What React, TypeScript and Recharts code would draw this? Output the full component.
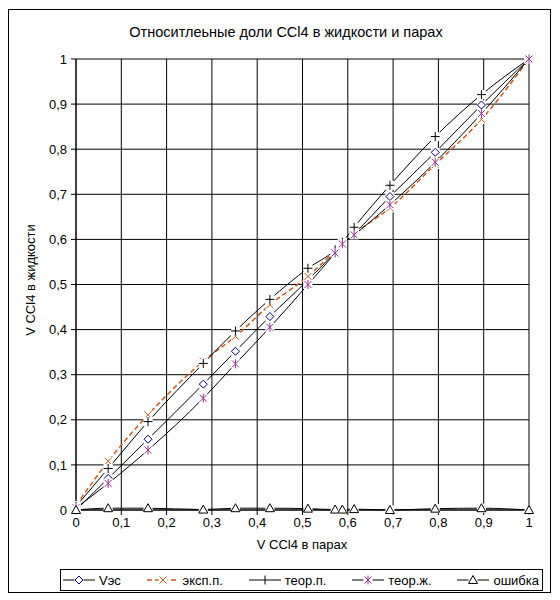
import { LineChart, Line, XAxis, YAxis, CartesianGrid } from 'recharts';

const FONT = "'Liberation Sans', Arial, sans-serif";

// доли CCl4 в парах (ось X)
const xPar = [0, 0.071, 0.159, 0.281, 0.352, 0.428, 0.512, 0.572, 0.588, 0.614, 0.693, 0.793, 0.895, 1];
const vEs = [0, 0.07, 0.157, 0.279, 0.352, 0.429, 0.51, 0.572, 0.59, 0.613, 0.695, 0.793, 0.898, 1];
const expP = [0.01, 0.108, 0.211, 0.33, 0.385, 0.455, 0.518, 0.575, 0.59, 0.612, 0.67, 0.766, 0.866, 1];
const teorP = [0.008, 0.092, 0.196, 0.325, 0.397, 0.467, 0.536, 0.577, 0.594, 0.627, 0.72, 0.828, 0.921, 1];
const teorZh = [0.005, 0.059, 0.133, 0.248, 0.324, 0.405, 0.5, 0.57, 0.59, 0.61, 0.677, 0.771, 0.879, 1];
const oshibka = [0, 0.004, 0.004, 0.001, 0.004, 0.004, 0.003, 0.001, 0.001, 0.002, 0, 0.003, 0.004, 0];

const ticks = [0, 0.1, 0.2, 0.3, 0.4, 0.5, 0.6, 0.7, 0.8, 0.9, 1];

const data = xPar.map((x, i) => ({
  x,
  ves: vEs[i],
  exp: expP[i],
  tp: teorP[i],
  tz: teorZh[i],
  err: oshibka[i],
}));

const fmt = (v: number) => String(v).replace('.', ',');

const NAVY = '#000080';
const ORANGE = '#cc5a1a';
const PURPLE = '#993399';

type Shape = 'diamond' | 'x' | 'plus' | 'star' | 'triangle';

function marker(shape: Shape, cx: number, cy: number, bg = true) {
  const r = 3.5;
  let m;
  if (shape === 'diamond') {
    m = <polygon points={`${cx},${cy - 4} ${cx + 4},${cy} ${cx},${cy + 4} ${cx - 4},${cy}`} fill="#fff" stroke={NAVY} strokeWidth={1} />;
  } else if (shape === 'x') {
    m = (
      <g stroke={ORANGE} strokeWidth={1}>
        <line x1={cx - r} y1={cy - r} x2={cx + r} y2={cy + r} />
        <line x1={cx - r} y1={cy + r} x2={cx + r} y2={cy - r} />
      </g>
    );
  } else if (shape === 'plus') {
    m = (
      <g stroke="#000" strokeWidth={1}>
        <line x1={cx - 4.5} y1={cy} x2={cx + 4.5} y2={cy} />
        <line x1={cx} y1={cy - 4.5} x2={cx} y2={cy + 4.5} />
      </g>
    );
  } else if (shape === 'star') {
    m = (
      <g stroke={PURPLE} strokeWidth={1}>
        <line x1={cx - r} y1={cy - r} x2={cx + r} y2={cy + r} />
        <line x1={cx - r} y1={cy + r} x2={cx + r} y2={cy - r} />
        <line x1={cx} y1={cy - 4.5} x2={cx} y2={cy + 4.5} />
      </g>
    );
  } else {
    m = <polygon points={`${cx},${cy - 4.5} ${cx + 4.5},${cy + 3.5} ${cx - 4.5},${cy + 3.5}`} fill="#fff" stroke="#000" strokeWidth={1} />;
  }
  return (
    <g>
      {bg && <rect x={cx - 4.5} y={cy - 4.5} width={9} height={9} fill="#fff" />}
      {m}
    </g>
  );
}

const dotOf = (shape: Shape) => (props: any) => (
  <g key={`${shape}-${props.index}`}>{marker(shape, props.cx, props.cy)}</g>
);

const legendItems: Array<{ name: string; shape: Shape; color: string; dash?: string }> = [
  { name: 'Vэс', shape: 'diamond', color: '#000' },
  { name: 'эксп.п.', shape: 'x', color: ORANGE, dash: '5 3' },
  { name: 'теор.п.', shape: 'plus', color: '#000' },
  { name: 'теор.ж.', shape: 'star', color: '#000' },
  { name: 'ошибка', shape: 'triangle', color: '#000' },
];

export default function App() {
  return (
    <div
      style={{
        position: 'relative',
        width: 543,
        height: 584,
        marginTop: 1,
        border: '1px solid #000',
        boxSizing: 'border-box',
        fontFamily: FONT,
        fontSize: 13,
        color: '#000',
        background: '#fff',
      }}
    >
      <div style={{ position: 'absolute', left: 277, top: 14, fontSize: 14.5, transform: 'translateX(-50%)', whiteSpace: 'nowrap' }}>
        Относитлеьные доли CCl4 в жидкости и парах
      </div>

      <div style={{ position: 'absolute', left: 0, top: 0 }}>
        <LineChart width={541} height={520} data={data} margin={{ top: 49, right: 21, left: 0, bottom: 0 }}>
          <CartesianGrid stroke="#000" strokeWidth={1} />
          <XAxis
            dataKey="x"
            type="number"
            domain={[0, 1]}
            ticks={ticks}
            tickFormatter={fmt}
            stroke="#000"
            tickSize={5}
            tickMargin={3}
            height={20}
            tick={{ fill: '#000', fontSize: 13, fontFamily: FONT }}
          />
          <YAxis
            type="number"
            domain={[0, 1]}
            ticks={ticks}
            tickFormatter={fmt}
            stroke="#000"
            tickSize={5}
            tickMargin={4}
            width={67}
            tick={{ fill: '#000', fontSize: 13, fontFamily: FONT }}
          />
          <Line type="monotone" dataKey="ves" name="Vэс" stroke="#000" strokeWidth={1} dot={dotOf('diamond')} isAnimationActive={false} />
          <Line type="monotone" dataKey="exp" name="эксп.п." stroke={ORANGE} strokeWidth={1.5} strokeDasharray="5 3" dot={dotOf('x')} isAnimationActive={false} />
          <Line type="monotone" dataKey="tp" name="теор.п." stroke="#000" strokeWidth={1} dot={dotOf('plus')} isAnimationActive={false} />
          <Line type="monotone" dataKey="tz" name="теор.ж." stroke="#000" strokeWidth={1} dot={dotOf('star')} isAnimationActive={false} />
          <Line type="monotone" dataKey="err" name="ошибка" stroke="#000" strokeWidth={1} dot={dotOf('triangle')} isAnimationActive={false} />
        </LineChart>
      </div>

      <div style={{ position: 'absolute', left: 293, top: 527, transform: 'translateX(-50%)', whiteSpace: 'nowrap' }}>
        V CCl4 в парах
      </div>

      <div
        style={{
          position: 'absolute',
          left: 21,
          top: 270,
          transform: 'translate(-50%, -50%) rotate(-90deg)',
          whiteSpace: 'nowrap',
        }}
      >
        V CCl4 в жидкости
      </div>

      <div
        style={{
          position: 'absolute',
          left: 51,
          top: 559,
          width: 483,
          height: 22,
          border: '1px solid #000',
          boxSizing: 'border-box',
          display: 'flex',
          alignItems: 'center',
          justifyContent: 'space-between',
          padding: '0 3px 0 2px',
        }}
      >
        {legendItems.map((it) => (
          <div key={it.name} style={{ display: 'flex', alignItems: 'center', whiteSpace: 'nowrap' }}>
            <svg width={32} height={12} style={{ marginRight: 4 }}>
              <line x1={0} y1={6} x2={32} y2={6} stroke={it.color} strokeWidth={it.dash ? 1.5 : 1} strokeDasharray={it.dash} />
              {marker(it.shape, 16, 6)}
            </svg>
            <span>{it.name}</span>
          </div>
        ))}
      </div>
    </div>
  );
}
